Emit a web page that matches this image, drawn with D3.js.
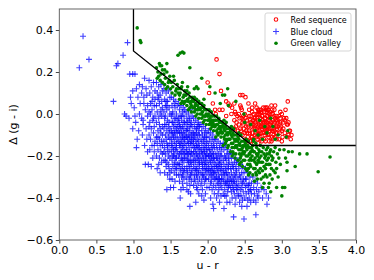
<!DOCTYPE html>
<html><head><meta charset="utf-8">
<script src="https://cdn.jsdelivr.net/npm/d3@7"></script>
<style>body{margin:0;background:#fff}svg{display:block}text{font-family:"DejaVu Sans",sans-serif}</style>
</head><body><svg id="c" width="374" height="280"></svg>
<script>
// ---- data (u - r, Δ(g - i)) ----
const xTicks = [0.0,0.5,1.0,1.5,2.0,2.5,3.0,3.5,4.0];
const yTicks = [-0.6,-0.4,-0.2,0.0,0.2,0.4];
const seriesNames = ["Red sequence","Blue cloud","Green valley"];
const boundaryU = [1.0,1.0,2.6,4.0];
const boundaryD = [0.5,0.3,-0.15,-0.15];

const redSequence = [
[2.12,0.26],[2.16,0.19],[2.00,0.15],[2.02,0.10],[2.18,0.11],[2.07,0.05],[2.10,0.02],[2.16,0.02],[2.28,0.05],[2.30,0.04],[2.36,0.05],[2.44,0.09],[2.47,0.09],[2.51,0.08],[2.45,0.03],[2.32,0.0],[2.25,-0.01],[2.20,0.02],[2.25,0.06],[2.64,0.05],[2.86,0.04],[2.91,0.04],[3.08,0.06],[3.05,0.02],[2.72,0.02],[2.82,0.02],[2.42,0.0],[2.11,0.0],[2.33,0.03],[2.68,0.02],[2.44,0.04],[3.04,-0.03],[3.07,-0.05],[3.10,-0.08],[3.09,-0.10],[3.00,-0.13],[2.98,0.01],[2.60,0.03],[2.55,0.05],[2.78,0.03],
[2.36,-0.03],[2.38,-0.06],[2.40,-0.01],[2.42,-0.05],[2.37,0.01],[2.41,-0.08],[2.43,-0.02],[2.39,-0.04],[2.44,-0.07],[2.38,0.0],[2.42,-0.10],[2.36,-0.07],
[2.46,-0.02],[2.48,-0.05],[2.50,0.0],[2.52,-0.08],[2.47,-0.10],[2.51,-0.12],[2.53,-0.03],[2.49,-0.07],[2.54,-0.11],[2.46,0.02],[2.52,-0.06],[2.48,-0.01],[2.50,-0.09],[2.54,-0.05],[2.47,-0.04],[2.53,-0.13],[2.45,-0.08],[2.51,-0.02],
[2.56,-0.01],[2.58,-0.04],[2.60,0.01],[2.62,-0.07],[2.57,-0.09],[2.61,-0.12],[2.63,-0.02],[2.59,-0.06],[2.64,-0.10],[2.56,0.02],[2.62,-0.05],[2.58,-0.01],[2.60,-0.09],[2.64,-0.04],[2.57,-0.13],[2.63,-0.14],[2.55,-0.06],[2.61,-0.03],[2.59,-0.11],[2.64,-0.07],[2.56,-0.08],[2.62,0.0],[2.60,-0.05],[2.58,-0.13],
[2.66,0.0],[2.68,-0.03],[2.70,0.02],[2.72,-0.06],[2.67,-0.08],[2.71,-0.11],[2.73,-0.01],[2.69,-0.05],[2.74,-0.09],[2.66,0.03],[2.72,-0.04],[2.68,0.0],[2.70,-0.08],[2.74,-0.03],[2.67,-0.12],[2.73,-0.13],[2.65,-0.05],[2.71,-0.02],[2.69,-0.10],[2.74,-0.06],[2.66,-0.07],[2.72,0.01],[2.70,-0.04],[2.68,-0.14],[2.73,-0.07],[2.67,-0.02],[2.71,-0.06],[2.69,0.01],
[2.76,0.01],[2.78,-0.02],[2.80,0.03],[2.82,-0.05],[2.77,-0.07],[2.81,-0.10],[2.83,0.0],[2.79,-0.04],[2.84,-0.08],[2.76,-0.12],[2.82,-0.03],[2.78,0.01],[2.80,-0.07],[2.84,-0.02],[2.77,-0.10],[2.83,-0.13],[2.75,-0.04],[2.81,-0.01],[2.79,-0.09],[2.84,-0.05],[2.76,-0.06],[2.82,0.02],[2.80,-0.04],[2.78,-0.13],[2.83,-0.07],[2.77,-0.02],[2.81,-0.06],[2.79,0.02],
[2.86,0.0],[2.88,-0.03],[2.90,0.02],[2.92,-0.06],[2.87,-0.08],[2.91,-0.11],[2.93,-0.01],[2.89,-0.05],[2.94,-0.09],[2.86,-0.13],[2.92,-0.03],[2.88,0.0],[2.90,-0.08],[2.94,-0.03],[2.87,-0.11],[2.93,-0.12],[2.85,-0.05],[2.91,-0.02],[2.89,-0.10],[2.94,-0.06],[2.86,-0.07],[2.90,-0.04],
[2.96,-0.01],[2.98,-0.04],[3.00,0.0],[3.02,-0.07],[2.97,-0.09],[3.01,-0.11],[3.03,-0.02],[2.99,-0.06],[3.04,-0.09],[2.96,-0.12],[3.02,-0.04],[2.98,-0.02],[3.00,-0.08],[2.97,-0.05],
[3.06,-0.02],[3.08,-0.05],[3.11,-0.08],[3.07,-0.11],[3.12,-0.12],[3.09,-0.04],[3.13,-0.10],
[2.62,-0.03],[2.65,-0.09],[2.68,-0.06],[2.71,-0.09],[2.74,-0.01],[2.77,-0.04],[2.80,-0.01],[2.83,-0.10],[2.86,-0.04],[2.89,-0.07],[2.92,-0.09],[2.95,-0.04],[2.98,-0.07],[2.66,-0.11],[2.72,-0.12],[2.78,-0.08],[2.82,-0.11],[2.88,-0.12],[2.64,-0.02],[2.70,0.0],[2.76,-0.09],[2.84,0.01],[2.90,-0.01],[2.57,-0.03],[2.53,-0.09],[2.48,-0.03],[2.60,-0.11],[2.75,0.03],[2.87,0.02],[2.93,-0.07]
];

const blueCloud = [
[0.27,0.22],[0.32,0.37],[0.40,0.26],[0.73,0.06],[0.77,0.23],[0.79,0.24],[0.86,0.28],[0.92,0.34],[0.88,0.0],[0.90,-0.01],[0.95,0.19],[0.99,0.19],[0.99,0.11],[0.97,0.05],[0.94,-0.02],[0.99,-0.07],[0.96,0.08],
[1.02,0.19],[1.04,0.12],[1.06,0.08],[1.01,0.03],[1.08,0.0],[1.03,-0.04],[1.07,-0.08],[1.05,-0.12],[1.04,-0.16],[1.09,0.05],[1.02,-0.01],[1.08,0.14],
[1.11,0.10],[1.15,0.17],[1.12,0.13],[1.18,0.09],[1.14,0.05],[1.16,0.02],[1.11,-0.02],[1.19,-0.01],[1.13,-0.05],[1.17,-0.07],[1.12,-0.10],[1.18,-0.12],[1.15,-0.15],[1.19,-0.18],[1.16,-0.24],[1.14,0.08],[1.17,0.12],[1.19,0.04],[1.13,-0.03],[1.20,-0.24],
[1.21,0.16],[1.24,0.13],[1.27,0.15],[1.22,0.10],[1.26,0.08],[1.29,0.11],[1.23,0.05],[1.28,0.04],[1.21,0.01],[1.25,0.02],[1.29,-0.01],[1.22,-0.04],[1.26,-0.03],[1.24,-0.07],[1.28,-0.06],[1.21,-0.10],[1.27,-0.09],[1.23,-0.12],[1.29,-0.13],[1.25,-0.15],[1.22,-0.17],[1.28,-0.18],[1.26,-0.21],[1.24,-0.25],[1.29,0.07],[1.23,0.0],[1.27,-0.02],[1.25,0.06],[1.21,-0.06],[1.28,-0.15],
[1.31,0.15],[1.34,0.13],[1.37,0.14],[1.39,0.11],[1.32,0.10],[1.36,0.09],[1.33,0.07],[1.38,0.06],[1.31,0.04],[1.35,0.05],[1.39,0.03],[1.32,0.01],[1.36,0.0],[1.34,-0.02],[1.38,-0.01],[1.31,-0.04],[1.35,-0.05],[1.39,-0.06],[1.33,-0.08],[1.37,-0.09],[1.31,-0.11],[1.35,-0.12],[1.39,-0.10],[1.32,-0.14],[1.36,-0.15],[1.38,-0.13],[1.33,-0.17],[1.37,-0.18],[1.31,-0.20],[1.35,-0.21],[1.39,-0.19],[1.34,-0.24],[1.38,-0.23],[1.36,-0.28],[1.32,-0.26],[1.37,0.02],[1.34,0.08],[1.39,-0.15],[1.33,-0.11],[1.36,-0.07],
[1.41,0.12],[1.44,0.10],[1.47,0.11],[1.49,0.08],[1.42,0.07],[1.46,0.06],[1.43,0.04],[1.48,0.03],[1.41,0.01],[1.45,0.02],[1.49,0.0],[1.42,-0.02],[1.46,-0.03],[1.44,-0.05],[1.48,-0.04],[1.41,-0.07],[1.45,-0.08],[1.49,-0.07],[1.43,-0.10],[1.47,-0.11],[1.41,-0.13],[1.45,-0.14],[1.49,-0.12],[1.42,-0.16],[1.46,-0.17],[1.48,-0.15],[1.43,-0.19],[1.47,-0.20],[1.41,-0.22],[1.45,-0.23],[1.49,-0.21],[1.44,-0.25],[1.48,-0.26],[1.42,-0.28],[1.46,-0.29],[1.49,-0.31],[1.45,-0.36],[1.43,-0.01],[1.47,-0.06],[1.44,-0.12],[1.48,-0.09],[1.42,-0.05],[1.46,-0.15],[1.44,0.06],[1.48,-0.18],[1.43,-0.22],[1.47,-0.24],[1.41,-0.18],[1.49,-0.28],[1.45,0.04],
[1.51,0.08],[1.54,0.07],[1.57,0.06],[1.59,0.04],[1.52,0.04],[1.56,0.03],[1.53,0.01],[1.58,0.00],[1.51,-0.01],[1.55,-0.02],[1.59,-0.03],[1.52,-0.04],[1.56,-0.05],[1.54,-0.06],[1.58,-0.07],[1.51,-0.08],[1.55,-0.09],[1.59,-0.09],[1.53,-0.10],[1.57,-0.11],[1.51,-0.12],[1.55,-0.13],[1.59,-0.12],[1.52,-0.14],[1.56,-0.15],[1.58,-0.14],[1.53,-0.16],[1.57,-0.17],[1.51,-0.18],[1.55,-0.19],[1.59,-0.18],[1.54,-0.20],[1.58,-0.21],[1.52,-0.22],[1.56,-0.23],[1.59,-0.24],[1.53,-0.25],[1.57,-0.26],[1.51,-0.27],[1.55,-0.28],[1.58,-0.29],[1.52,-0.31],[1.56,-0.32],[1.54,-0.35],[1.50,-0.35],[1.53,-0.04],[1.57,-0.02],[1.54,-0.11],[1.58,-0.16],[1.52,-0.09],[1.56,-0.08],[1.54,-0.17],[1.59,-0.06],[1.51,-0.15],[1.55,-0.24],[1.57,-0.21],[1.53,-0.20],[1.58,-0.26],[1.55,0.05],[1.52,0.0],
[1.61,0.05],[1.64,0.04],[1.67,0.03],[1.62,0.02],[1.66,0.01],[1.69,0.02],[1.63,-0.01],[1.68,-0.01],[1.61,-0.02],[1.65,-0.03],[1.69,-0.04],[1.62,-0.05],[1.66,-0.06],[1.64,-0.07],[1.68,-0.07],[1.61,-0.08],[1.65,-0.09],[1.69,-0.10],[1.63,-0.11],[1.67,-0.12],[1.61,-0.13],[1.65,-0.13],[1.69,-0.14],[1.62,-0.15],[1.66,-0.16],[1.68,-0.17],[1.63,-0.18],[1.67,-0.19],[1.61,-0.20],[1.65,-0.21],[1.69,-0.21],[1.64,-0.22],[1.68,-0.23],[1.62,-0.24],[1.66,-0.25],[1.69,-0.26],[1.63,-0.27],[1.67,-0.28],[1.61,-0.29],[1.65,-0.30],[1.68,-0.31],[1.62,-0.32],[1.66,-0.33],[1.64,-0.36],[1.63,-0.40],[1.67,-0.35],[1.62,-0.09],[1.66,-0.11],[1.64,-0.15],[1.68,-0.04],[1.63,-0.06],[1.67,-0.09],[1.65,-0.18],[1.69,-0.19],[1.62,-0.19],[1.66,-0.22],[1.64,-0.26],[1.68,-0.27],[1.61,-0.24],[1.65,-0.01],[1.67,-0.15],[1.63,-0.14],[1.69,-0.12],[1.61,-0.04],[1.66,-0.29],
[1.71,0.01],[1.74,0.00],[1.77,0.02],[1.72,-0.02],[1.76,-0.02],[1.79,-0.01],[1.73,-0.04],[1.78,-0.04],[1.71,-0.05],[1.75,-0.06],[1.79,-0.06],[1.72,-0.08],[1.76,-0.08],[1.74,-0.10],[1.78,-0.10],[1.71,-0.11],[1.75,-0.12],[1.79,-0.12],[1.73,-0.13],[1.77,-0.14],[1.71,-0.15],[1.75,-0.16],[1.79,-0.15],[1.72,-0.17],[1.76,-0.18],[1.78,-0.18],[1.73,-0.19],[1.77,-0.20],[1.71,-0.21],[1.75,-0.22],[1.79,-0.22],[1.74,-0.23],[1.78,-0.24],[1.72,-0.25],[1.76,-0.26],[1.79,-0.27],[1.73,-0.28],[1.77,-0.29],[1.71,-0.30],[1.75,-0.31],[1.78,-0.32],[1.72,-0.33],[1.76,-0.34],[1.74,-0.37],[1.77,-0.38],[1.76,-0.44],[1.72,-0.36],[1.73,-0.07],[1.77,-0.05],[1.74,-0.14],[1.78,-0.13],[1.72,-0.11],[1.76,-0.11],[1.74,-0.19],[1.79,-0.19],[1.71,-0.18],[1.75,-0.25],[1.77,-0.23],[1.73,-0.22],[1.78,-0.28],[1.75,-0.03],[1.72,-0.27],[1.79,-0.09],[1.71,-0.08],[1.76,-0.30],
[1.81,-0.02],[1.84,-0.03],[1.87,-0.04],[1.82,-0.05],[1.86,-0.06],[1.89,-0.06],[1.83,-0.07],[1.88,-0.08],[1.81,-0.09],[1.85,-0.09],[1.89,-0.10],[1.82,-0.11],[1.86,-0.12],[1.84,-0.13],[1.88,-0.13],[1.81,-0.14],[1.85,-0.15],[1.89,-0.16],[1.83,-0.16],[1.87,-0.17],[1.81,-0.18],[1.85,-0.19],[1.89,-0.19],[1.82,-0.20],[1.86,-0.21],[1.88,-0.22],[1.83,-0.23],[1.87,-0.24],[1.81,-0.25],[1.85,-0.26],[1.89,-0.25],[1.84,-0.27],[1.88,-0.28],[1.82,-0.29],[1.86,-0.30],[1.89,-0.31],[1.83,-0.32],[1.87,-0.33],[1.81,-0.34],[1.85,-0.35],[1.88,-0.38],[1.84,-0.42],[1.83,-0.10],[1.87,-0.10],[1.84,-0.18],[1.88,-0.15],[1.82,-0.16],[1.86,-0.15],[1.84,-0.22],[1.89,-0.23],[1.81,-0.22],[1.85,-0.29],[1.87,-0.27],[1.83,-0.26],[1.88,-0.05],[1.85,-0.07],[1.82,-0.31],[1.86,-0.36],[1.81,-0.12],[1.87,-0.20],
[1.91,-0.05],[1.94,-0.06],[1.97,-0.07],[1.92,-0.08],[1.96,-0.09],[1.99,-0.09],[1.93,-0.10],[1.98,-0.11],[1.91,-0.12],[1.95,-0.12],[1.99,-0.13],[1.92,-0.14],[1.96,-0.15],[1.94,-0.16],[1.98,-0.16],[1.91,-0.17],[1.95,-0.18],[1.99,-0.19],[1.93,-0.19],[1.97,-0.20],[1.91,-0.21],[1.95,-0.22],[1.99,-0.22],[1.92,-0.23],[1.96,-0.24],[1.98,-0.25],[1.93,-0.26],[1.97,-0.27],[1.91,-0.28],[1.95,-0.29],[1.99,-0.28],[1.94,-0.30],[1.98,-0.31],[1.92,-0.32],[1.96,-0.33],[1.99,-0.35],[1.93,-0.36],[1.97,-0.38],[1.95,-0.41],[1.92,-0.39],[1.94,-0.13],[1.98,-0.14],[1.92,-0.18],[1.96,-0.18],[1.94,-0.21],[1.98,-0.20],[1.93,-0.24],[1.97,-0.23],[1.95,-0.26],[1.99,-0.26],[1.96,-0.11],[1.93,-0.29],[1.97,-0.31],[1.91,-0.34],[1.99,-0.17],
[2.01,-0.08],[2.04,-0.09],[2.07,-0.10],[2.02,-0.11],[2.06,-0.12],[2.09,-0.12],[2.03,-0.13],[2.08,-0.14],[2.01,-0.15],[2.05,-0.15],[2.09,-0.16],[2.02,-0.17],[2.06,-0.18],[2.04,-0.19],[2.08,-0.19],[2.01,-0.20],[2.05,-0.21],[2.09,-0.22],[2.03,-0.22],[2.07,-0.23],[2.01,-0.24],[2.05,-0.25],[2.09,-0.25],[2.02,-0.26],[2.06,-0.27],[2.08,-0.28],[2.03,-0.29],[2.07,-0.30],[2.01,-0.31],[2.05,-0.32],[2.09,-0.31],[2.04,-0.33],[2.08,-0.34],[2.02,-0.35],[2.06,-0.36],[2.09,-0.38],[2.04,-0.40],[2.07,-0.43],[2.08,-0.45],[2.03,-0.17],[2.07,-0.16],[2.04,-0.23],[2.08,-0.21],[2.02,-0.20],[2.06,-0.20],[2.04,-0.27],[2.09,-0.28],[2.01,-0.27],[2.05,-0.29],[2.07,-0.26],
[2.11,-0.12],[2.14,-0.13],[2.17,-0.14],[2.12,-0.15],[2.16,-0.16],[2.19,-0.16],[2.13,-0.17],[2.18,-0.18],[2.11,-0.19],[2.15,-0.19],[2.19,-0.20],[2.12,-0.21],[2.16,-0.22],[2.14,-0.23],[2.18,-0.23],[2.11,-0.24],[2.15,-0.25],[2.19,-0.26],[2.13,-0.26],[2.17,-0.27],[2.11,-0.28],[2.15,-0.29],[2.19,-0.29],[2.12,-0.30],[2.16,-0.31],[2.18,-0.32],[2.13,-0.33],[2.17,-0.34],[2.11,-0.35],[2.15,-0.36],[2.19,-0.35],[2.14,-0.38],[2.18,-0.39],[2.12,-0.40],[2.16,-0.42],[2.13,-0.21],[2.17,-0.20],[2.14,-0.27],[2.18,-0.25],[2.12,-0.25],[2.16,-0.24],[2.14,-0.31],[2.19,-0.31],[2.11,-0.31],[2.15,-0.33],
[2.21,-0.14],[2.24,-0.15],[2.27,-0.17],[2.22,-0.17],[2.26,-0.19],[2.29,-0.19],[2.23,-0.20],[2.28,-0.21],[2.21,-0.22],[2.25,-0.22],[2.29,-0.23],[2.22,-0.24],[2.26,-0.25],[2.24,-0.26],[2.28,-0.26],[2.21,-0.27],[2.25,-0.28],[2.29,-0.29],[2.23,-0.29],[2.27,-0.30],[2.21,-0.31],[2.25,-0.32],[2.29,-0.32],[2.22,-0.33],[2.26,-0.34],[2.28,-0.35],[2.23,-0.36],[2.27,-0.37],[2.21,-0.38],[2.25,-0.39],[2.26,-0.42],[2.22,-0.45],[2.24,-0.21],[2.28,-0.24],[2.22,-0.28],[2.26,-0.28],[2.24,-0.33],[2.29,-0.34],[2.27,-0.32],[2.23,-0.39],
[2.31,-0.18],[2.34,-0.19],[2.37,-0.21],[2.32,-0.21],[2.36,-0.23],[2.39,-0.23],[2.33,-0.24],[2.38,-0.25],[2.31,-0.26],[2.35,-0.26],[2.39,-0.27],[2.32,-0.28],[2.36,-0.29],[2.34,-0.30],[2.38,-0.30],[2.31,-0.31],[2.35,-0.32],[2.39,-0.33],[2.33,-0.33],[2.37,-0.34],[2.31,-0.35],[2.35,-0.36],[2.39,-0.36],[2.32,-0.37],[2.36,-0.38],[2.38,-0.40],[2.33,-0.40],[2.37,-0.43],[2.35,-0.49],[2.34,-0.25],[2.38,-0.28],[2.32,-0.32],[2.36,-0.32],[2.34,-0.35],[2.30,-0.42],
[2.41,-0.22],[2.44,-0.24],[2.47,-0.25],[2.42,-0.26],[2.46,-0.28],[2.49,-0.28],[2.43,-0.29],[2.48,-0.31],[2.41,-0.31],[2.45,-0.32],[2.49,-0.33],[2.42,-0.34],[2.46,-0.35],[2.44,-0.36],[2.48,-0.37],[2.41,-0.38],[2.45,-0.39],[2.43,-0.42],[2.47,-0.41],[2.42,-0.39],[2.49,-0.50],[2.44,-0.30],[2.47,-0.33],[2.40,-0.35],[2.46,-0.44],
[2.51,-0.26],[2.54,-0.28],[2.57,-0.30],[2.52,-0.31],[2.56,-0.33],[2.59,-0.33],[2.53,-0.34],[2.58,-0.36],[2.51,-0.35],[2.55,-0.37],[2.59,-0.38],[2.52,-0.38],[2.56,-0.40],[2.54,-0.41],[2.53,-0.44],[2.55,-0.34],[2.57,-0.36],[2.51,-0.31],[2.58,-0.42],[2.50,-0.40],
[2.61,-0.30],[2.64,-0.32],[2.67,-0.33],[2.62,-0.35],[2.66,-0.36],[2.69,-0.37],[2.63,-0.38],[2.68,-0.40],[2.65,-0.42],[2.65,-0.48],[2.62,-0.41],[2.67,-0.39],
[2.72,-0.35],[2.76,-0.36],[2.79,-0.38],[2.82,-0.40],[2.80,-0.43],[2.74,-0.40]
];

const greenValley = [
[1.05,0.41],[1.10,0.34],[1.09,0.35],[1.63,0.29],[1.66,0.295],[1.60,0.28],[1.68,0.29],[1.76,0.22],[1.92,0.17],[1.85,0.13],[1.87,0.12],[1.82,0.12],[2.27,0.12],[2.20,0.09],[2.10,0.10],[2.38,0.06],[1.73,0.13],[1.95,0.07],[1.36,0.23],[1.45,0.24],[2.03,0.13],[2.23,0.09],[2.17,0.05],[2.28,0.04],
[1.31,0.22],[1.33,0.20],[1.35,0.24],[1.37,0.19],[1.39,0.21],[1.32,0.17],[1.36,0.16],[1.38,0.23],[1.34,0.18],[1.39,0.15],
[1.41,0.19],[1.43,0.17],[1.45,0.20],[1.47,0.15],[1.49,0.18],[1.42,0.14],[1.46,0.13],[1.48,0.16],[1.44,0.12],[1.42,0.21],
[1.51,0.15],[1.53,0.13],[1.55,0.16],[1.57,0.11],[1.59,0.14],[1.52,0.10],[1.56,0.09],[1.58,0.12],[1.54,0.18],[1.50,0.12],
[1.61,0.12],[1.63,0.10],[1.65,0.13],[1.67,0.08],[1.69,0.11],[1.62,0.07],[1.66,0.06],[1.68,0.09],[1.64,0.05],[1.60,0.10],[1.66,0.15],
[1.71,0.09],[1.73,0.07],[1.75,0.10],[1.77,0.05],[1.79,0.08],[1.72,0.04],[1.76,0.03],[1.78,0.06],[1.74,0.02],[1.70,0.06],[1.78,0.01],[1.72,0.11],
[1.81,0.06],[1.83,0.04],[1.85,0.07],[1.87,0.02],[1.89,0.05],[1.82,0.01],[1.86,0.0],[1.88,0.03],[1.84,-0.01],[1.80,0.03],[1.88,-0.02],[1.82,0.08],[1.86,0.04],
[1.91,0.03],[1.93,0.01],[1.95,0.04],[1.97,-0.01],[1.99,0.02],[1.92,-0.02],[1.96,-0.03],[1.98,0.0],[1.94,-0.04],[1.90,0.0],[1.98,-0.05],[1.92,0.05],[1.96,0.02],[1.94,-0.01],
[2.01,0.0],[2.03,-0.02],[2.05,0.01],[2.07,-0.04],[2.09,-0.01],[2.02,-0.05],[2.06,-0.06],[2.08,-0.03],[2.04,-0.07],[2.00,-0.03],[2.08,-0.08],[2.02,0.02],[2.06,-0.01],[2.04,-0.04],[2.09,-0.06],
[2.11,-0.03],[2.13,-0.05],[2.15,-0.02],[2.17,-0.07],[2.19,-0.04],[2.12,-0.08],[2.16,-0.09],[2.18,-0.06],[2.14,-0.10],[2.10,-0.06],[2.18,-0.11],[2.12,-0.01],[2.16,-0.04],[2.14,-0.07],[2.19,-0.09],[2.11,-0.11],
[2.21,-0.05],[2.23,-0.08],[2.25,-0.04],[2.27,-0.10],[2.29,-0.07],[2.22,-0.11],[2.26,-0.12],[2.28,-0.09],[2.24,-0.14],[2.20,-0.09],[2.28,-0.15],[2.22,-0.03],[2.26,-0.07],[2.24,-0.10],[2.29,-0.12],[2.21,-0.15],[2.27,-0.16],
[2.31,-0.08],[2.33,-0.11],[2.35,-0.07],[2.37,-0.13],[2.39,-0.10],[2.32,-0.14],[2.36,-0.16],[2.38,-0.12],[2.34,-0.18],[2.30,-0.12],[2.38,-0.19],[2.32,-0.06],[2.36,-0.10],[2.34,-0.14],[2.39,-0.16],[2.31,-0.18],[2.37,-0.21],[2.33,-0.20],
[2.41,-0.11],[2.43,-0.14],[2.45,-0.10],[2.47,-0.16],[2.49,-0.13],[2.42,-0.17],[2.46,-0.19],[2.48,-0.15],[2.44,-0.21],[2.40,-0.15],[2.48,-0.22],[2.42,-0.09],[2.46,-0.13],[2.44,-0.17],[2.49,-0.19],[2.41,-0.22],[2.47,-0.25],[2.43,-0.24],[2.45,-0.23],
[2.51,-0.14],[2.53,-0.17],[2.55,-0.13],[2.57,-0.19],[2.59,-0.16],[2.52,-0.20],[2.56,-0.22],[2.58,-0.18],[2.54,-0.24],[2.50,-0.18],[2.58,-0.25],[2.52,-0.12],[2.56,-0.16],[2.54,-0.20],[2.59,-0.22],[2.51,-0.26],[2.57,-0.28],[2.53,-0.27],[2.55,-0.29],
[2.61,-0.15],[2.63,-0.18],[2.65,-0.14],[2.67,-0.20],[2.69,-0.17],[2.62,-0.22],[2.66,-0.24],[2.68,-0.19],[2.64,-0.26],[2.60,-0.20],[2.68,-0.27],[2.62,-0.13],[2.66,-0.16],[2.64,-0.21],[2.69,-0.23],[2.61,-0.29],[2.67,-0.31],[2.63,-0.32],[2.65,-0.28],
[2.71,-0.15],[2.73,-0.18],[2.75,-0.16],[2.77,-0.21],[2.79,-0.17],[2.72,-0.23],[2.76,-0.25],[2.78,-0.20],[2.74,-0.27],[2.70,-0.21],[2.78,-0.29],[2.72,-0.31],[2.76,-0.33],[2.74,-0.35],[2.79,-0.24],[2.71,-0.26],
[2.81,-0.16],[2.83,-0.19],[2.85,-0.17],[2.87,-0.22],[2.89,-0.18],[2.82,-0.24],[2.86,-0.26],[2.88,-0.21],[2.84,-0.29],[2.80,-0.22],[2.87,-0.31],[2.83,-0.33],[2.85,-0.37],[2.89,-0.27],[2.82,-0.35],[2.80,-0.30],
[2.91,-0.16],[2.94,-0.19],[2.97,-0.17],[2.92,-0.23],[2.96,-0.21],[2.93,-0.26],[2.98,-0.24],[2.95,-0.30],[2.91,-0.28],[2.93,-0.35],
[3.01,-0.35],[3.03,-0.17],[3.05,-0.21],[3.09,-0.18],[3.14,-0.18],[3.07,-0.23],[3.18,-0.25],[3.24,-0.19],[3.34,-0.19],[3.49,-0.275],[3.65,-0.205],[3.07,-0.27],[3.00,-0.39],[3.04,-0.35],
[2.49,0.0],[2.50,-0.04],[2.64,-0.08],[2.77,-0.06],[2.88,-0.06],[2.80,-0.09],[2.91,-0.12],[3.06,-0.11],[3.08,-0.08],[2.62,-0.12],[2.74,-0.12],[2.85,-0.02],[2.70,-0.03],[2.95,-0.10],[2.58,-0.05],[2.68,-0.10],
[1.62,0.09],[1.64,0.12],[1.68,0.05],[1.70,0.09],[1.74,0.06],[1.76,0.08],[1.80,0.07],[1.78,0.04],
[1.82,0.03],[1.84,0.05],[1.86,0.02],[1.88,0.06],[1.90,0.02],[1.92,0.0],[1.94,0.03],[1.96,-0.01],[1.98,0.02],[1.84,0.02],
[2.00,-0.01],[2.02,-0.03],[2.04,-0.01],[2.06,-0.03],[2.08,-0.05],[2.10,-0.03],[2.12,-0.05],[2.14,-0.03],[2.16,-0.06],[2.18,-0.08],[2.20,-0.06],[2.05,-0.05],[2.13,-0.09],
[2.22,-0.07],[2.24,-0.06],[2.26,-0.09],[2.28,-0.12],[2.30,-0.09],[2.32,-0.10],[2.34,-0.09],[2.36,-0.12],[2.38,-0.15],[2.40,-0.13],[2.25,-0.13],[2.33,-0.16],[2.23,-0.12],[2.35,-0.19],
[2.42,-0.12],[2.44,-0.15],[2.46,-0.17],[2.48,-0.18],[2.50,-0.15],[2.52,-0.16],[2.54,-0.15],[2.56,-0.19],[2.58,-0.21],[2.60,-0.17],[2.45,-0.20],[2.50,-0.22],[2.55,-0.26],[2.57,-0.24],[2.43,-0.19],
[2.62,-0.18],[2.64,-0.23],[2.66,-0.19],[2.68,-0.22],[2.70,-0.18],[2.72,-0.20],[2.74,-0.23],[2.76,-0.19],[2.78,-0.26],[2.80,-0.19],[2.82,-0.21],[2.84,-0.24],[2.86,-0.20],[2.70,-0.28],[2.66,-0.29],[2.75,-0.30],[2.62,-0.26],[2.84,-0.18]
];

// ---- drawing ----
const svg = d3.select("#c");
const x = d3.scaleLinear().domain([0, 4]).range([59.3, 356]);
const y = d3.scaleLinear().domain([-0.6, 0.5]).range([240, 9]);

const clipId = "plotclip";
svg.append("defs").append("clipPath").attr("id", clipId)
  .append("rect").attr("x", x(0)).attr("y", y(0.5)).attr("width", x(4) - x(0)).attr("height", y(-0.6) - y(0.5));

const plot = svg.append("g").attr("clip-path", `url(#${clipId})`);

// red sequence: open circles
plot.append("g").selectAll("circle").data(redSequence).join("circle")
  .attr("cx", d => x(d[0])).attr("cy", d => y(d[1])).attr("r", 1.8)
  .attr("fill", "none").attr("stroke", "#ff0000").attr("stroke-width", 1.05);

// blue cloud: plus markers
const plusPath = "M-3,0H3M0,-3V3";
plot.append("g").selectAll("path").data(blueCloud).join("path")
  .attr("transform", d => `translate(${x(d[0])},${y(d[1])})`)
  .attr("d", plusPath).attr("stroke", "#0000ff").attr("stroke-width", 1.1).attr("fill", "none").attr("opacity", 0.75);

// green valley: small filled dots
plot.append("g").selectAll("circle").data(greenValley).join("circle")
  .attr("cx", d => x(d[0])).attr("cy", d => y(d[1])).attr("r", 1.8)
  .attr("fill", "#008000");

// boundary line
const boundary = boundaryU.map((u, i) => [u, boundaryD[i]]);
plot.append("path").datum(boundary)
  .attr("d", d3.line().x(d => x(d[0])).y(d => y(d[1])))
  .attr("fill", "none").attr("stroke", "#000").attr("stroke-width", 1.3);

// axes
const fmt = d3.format(".1f");
const gx = svg.append("g").attr("transform", `translate(0,${y(-0.6)})`)
  .call(d3.axisBottom(x).tickValues(xTicks).tickFormat(fmt).tickSize(3.5).tickPadding(2.5));
const gy = svg.append("g").attr("transform", `translate(${x(0)},0)`)
  .call(d3.axisLeft(y).tickValues(yTicks).tickFormat(fmt).tickSize(3.5).tickPadding(2.5));
[gx, gy].forEach(g => {
  g.select(".domain").remove();
  g.selectAll(".tick line").attr("stroke", "#333").attr("stroke-width", 0.9);
  g.selectAll(".tick text").attr("fill", "#000").style("font-size", "11px").style("font-family", "DejaVu Sans");
});

// frame
svg.append("rect").attr("x", x(0)).attr("y", y(0.5)).attr("width", x(4) - x(0)).attr("height", y(-0.6) - y(0.5))
  .attr("fill", "none").attr("stroke", "#555").attr("stroke-width", 0.9);

// axis labels
svg.append("text").attr("x", (x(0) + x(4)) / 2).attr("y", 269).attr("text-anchor", "middle")
  .style("font-size", "11px").text("u - r");
svg.append("text").attr("transform", `translate(17,${(y(0.5) + y(-0.6)) / 2}) rotate(-90)`).attr("text-anchor", "middle")
  .style("font-size", "11px").text("Δ (g - i)");

// legend
const lg = svg.append("g");
lg.append("rect").attr("x", 265).attr("y", 13).attr("width", 86).attr("height", 38).attr("rx", 2)
  .attr("fill", "#fff").attr("fill-opacity", 0.8).attr("stroke", "#d0d0d0").attr("stroke-width", 0.9);
const ly = [19.5, 31.5, 43.3];
lg.append("circle").attr("cx", 276).attr("cy", ly[0]).attr("r", 1.8).attr("fill", "none").attr("stroke", "#ff0000").attr("stroke-width", 1.05);
lg.append("path").attr("transform", `translate(276,${ly[1]})`).attr("d", plusPath).attr("stroke", "#0000ff").attr("stroke-width", 1.1).attr("opacity", 0.75);
lg.append("circle").attr("cx", 276).attr("cy", ly[2]).attr("r", 1.8).attr("fill", "#008000");
seriesNames.forEach((n, i) => {
  lg.append("text").attr("x", 290.5).attr("y", ly[i] + 3).style("font-size", "8px").attr("fill", "#000").text(n);
});
</script></body></html>
